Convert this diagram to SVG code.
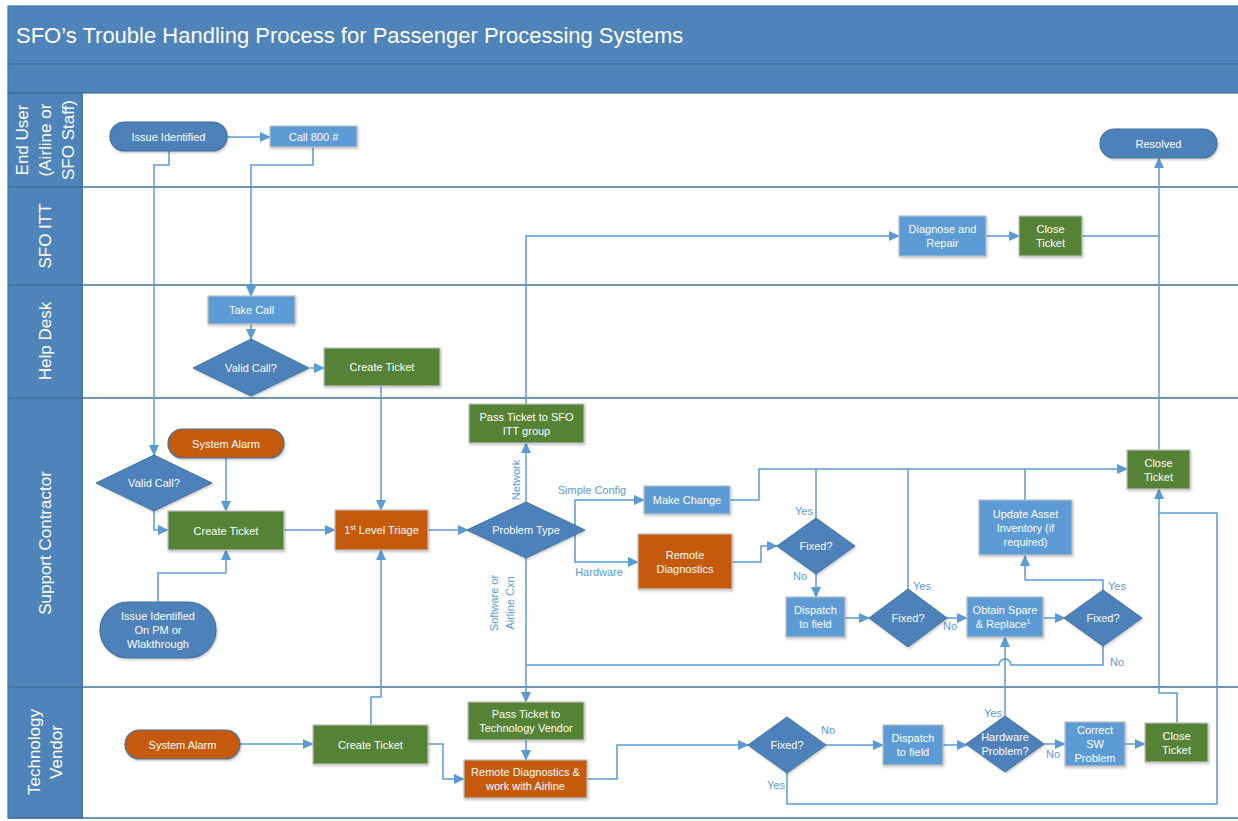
<svg xmlns="http://www.w3.org/2000/svg" width="1238" height="821" viewBox="0 0 1238 821">
<defs>
<marker id="arr" markerUnits="userSpaceOnUse" markerWidth="11" markerHeight="10" refX="10" refY="5" orient="auto">
<path d="M0,0 L11,5 L0,10 z" fill="#5b9bd5"/>
</marker>
<filter id="sh" x="-10%" y="-10%" width="130%" height="140%">
<feDropShadow dx="1" dy="1.5" stdDeviation="1.2" flood-color="#000" flood-opacity="0.22"/>
</filter>
<style>
.hdr{fill:#4e84ba;stroke:#41719c;stroke-width:1.2}
.lane{stroke:#41719c;stroke-width:1.6;fill:none}
.ttl{font-family:"Liberation Sans",Arial,sans-serif;font-size:22px;fill:#fff}
.lt{font-family:"Liberation Sans",Arial,sans-serif;font-size:17px;fill:#fff;text-anchor:middle}
.t{font-family:"Liberation Sans",Arial,sans-serif;font-size:11px;fill:#fff;text-anchor:middle}
.lbl{font-family:"Liberation Sans",Arial,sans-serif;font-size:11px;fill:#5b9bd5;text-anchor:middle}
.blue{fill:#5b9bd5;stroke:#bfbfbf;stroke-width:1.2;filter:url(#sh)}
.green{fill:#548235;stroke:#bfbfbf;stroke-width:1.2;filter:url(#sh)}
.orange{fill:#c55a11;stroke:#bfbfbf;stroke-width:1.2;filter:url(#sh)}
.pill{fill:#4e81ba;stroke:#41719c;stroke-width:1.2;filter:url(#sh)}
.opill{fill:#c55a11;stroke:#41719c;stroke-width:1.2;filter:url(#sh)}
.dec{fill:#4e81ba;stroke:#41719c;stroke-width:1;filter:url(#sh)}
.c{fill:none;stroke:#5b9bd5;stroke-width:1.5}
.ca{fill:none;stroke:#5b9bd5;stroke-width:1.5;marker-end:url(#arr)}
</style>
</defs>
<rect x="0" y="0" width="1238" height="821" fill="#fff"/>
<g id="swimlanes">
<rect class="hdr" x="8" y="6" width="1240" height="58"/>
<rect class="hdr" x="8" y="64" width="1240" height="29"/>
<rect class="hdr" x="8" y="93" width="74" height="725"/>
<path class="lane" d="M8,187 H1238 M8,285 H1238 M8,398 H1238 M8,687 H1238 M8,818 H1238 M82,93 V818"/>
<text class="ttl" x="16" y="43">SFO’s Trouble Handling Process for Passenger Processing Systems</text>
<text class="lt" transform="rotate(-90 45 140)" x="45" y="140"><tspan x="45" dy="-17">End User</tspan><tspan x="45" dy="23">(Airline or</tspan><tspan x="45" dy="23">SFO Staff)</tspan></text>
<text class="lt" transform="rotate(-90 51 236)" x="51" y="236">SFO ITT</text>
<text class="lt" transform="rotate(-90 51 341)" x="51" y="341">Help Desk</text>
<text class="lt" transform="rotate(-90 51 543)" x="51" y="543">Support Contractor</text>
<text class="lt" transform="rotate(-90 45 752)" x="45" y="752"><tspan x="45" dy="-5">Technology</tspan><tspan x="45" dy="22">Vendor</tspan></text>
</g>
<g id="connectors">
<path class="ca" d="M227,137 H270"/>
<path class="ca" d="M169,151 V165 H154 V455"/>
<path class="ca" d="M313,147 V165 H251 V296"/>
<path class="ca" d="M251,324 V339"/>
<path class="ca" d="M310,368 H324"/>
<path class="ca" d="M381,386 V510"/>
<path class="ca" d="M154,511 V530 H168"/>
<path class="ca" d="M226,458 V511"/>
<path class="ca" d="M158,602 V573 H226 V550"/>
<path class="ca" d="M284,530 H335"/>
<path class="ca" d="M428,530 H468"/>
<path class="ca" d="M526,502 V443"/>
<path class="ca" d="M526,404 V236 H899"/>
<path class="ca" d="M986,236 H1019"/>
<path class="c" d="M1082,236 H1159"/>
<path class="ca" d="M1159,450 V158"/>
<path class="ca" d="M575,530 V500 H644"/>
<path class="ca" d="M575,530 V562 H638"/>
<path class="ca" d="M730,500 H759 V469 H1127"/>
<path class="ca" d="M732,562 H761 V546 H777"/>
<path class="c" d="M816,518 V469"/>
<path class="ca" d="M816,574 V597"/>
<path class="ca" d="M845,618 H869"/>
<path class="c" d="M908,589 V469"/>
<path class="ca" d="M946,618 H967"/>
<path class="ca" d="M1043,618 H1065"/>
<path class="ca" d="M1103,590 V580 H1025 V556"/>
<path class="c" d="M1025,500 V469"/>
<path class="c" d="M1103,646 V665 H1011 A6,6 0 0 0 999,665 H526"/>
<path class="ca" d="M526,558 V702"/>
<path class="ca" d="M526,740 V760"/>
<path class="ca" d="M240,744 H313"/>
<path class="ca" d="M371,725 V697 H381 V550"/>
<path class="ca" d="M428,744 H443 V779 H464"/>
<path class="ca" d="M587,779 H617 V745 H748"/>
<path class="ca" d="M826,745 H883"/>
<path class="ca" d="M943,745 H967"/>
<path class="ca" d="M1005,716 V637"/>
<path class="ca" d="M1044,744 H1065"/>
<path class="ca" d="M1125,744 H1145"/>
<path class="ca" d="M1177,723 V693 H1159 V489"/>
<path class="c" d="M787,773 V804 H1217 V513 H1159"/>
<text class="lbl" transform="rotate(-90 520 480)" x="520" y="480">Network</text>
<text class="lbl" x="592" y="494">Simple Config</text>
<text class="lbl" x="599" y="576">Hardware</text>
<text class="lbl" transform="rotate(-90 502 603)" x="502" y="603"><tspan x="502" dy="-4">Software or</tspan><tspan x="502" dy="16">Airline Cxn</tspan></text>
<text class="lbl" x="804" y="515">Yes</text>
<text class="lbl" x="800" y="580">No</text>
<text class="lbl" x="922" y="590">Yes</text>
<text class="lbl" x="950" y="630">No</text>
<text class="lbl" x="1117" y="590">Yes</text>
<text class="lbl" x="1117" y="666">No</text>
<text class="lbl" x="828" y="734">No</text>
<text class="lbl" x="993" y="717">Yes</text>
<text class="lbl" x="1053" y="758">No</text>
<text class="lbl" x="776" y="789">Yes</text>
</g>
<g id="n_issue"><rect class="pill" x="110" y="122" width="117" height="29" rx="14.5"/><text class="t" x="168.5" y="140.5">Issue Identified</text></g>
<g id="n_call800"><rect class="blue" x="270" y="126" width="87" height="21"/><text class="t" x="313.5" y="140.5">Call 800 #</text></g>
<g id="n_resolved"><rect class="pill" x="1100" y="129" width="117" height="29" rx="14.5"/><text class="t" x="1158.5" y="147.5">Resolved</text></g>
<g id="n_diag_repair"><rect class="blue" x="899" y="216" width="87" height="40"/><text class="t" x="942.5" y="233"><tspan x="942.5">Diagnose and</tspan><tspan x="942.5" dy="14">Repair</tspan></text></g>
<g id="n_close_itt"><rect class="green" x="1019" y="216" width="63" height="40"/><text class="t" x="1050.5" y="233"><tspan x="1050.5">Close</tspan><tspan x="1050.5" dy="14">Ticket</tspan></text></g>
<g id="n_take_call"><rect class="blue" x="208" y="296" width="87" height="28"/><text class="t" x="251.5" y="314">Take Call</text></g>
<g id="n_valid_hd"><polygon class="dec" points="251,339 309,368 251,396 193,368"/><text class="t" x="251" y="372">Valid Call?</text></g>
<g id="n_create_hd"><rect class="green" x="324" y="348" width="116" height="38"/><text class="t" x="382" y="371">Create Ticket</text></g>
<g id="n_alarm_sc"><rect class="opill" x="168" y="429" width="116" height="29" rx="14.5"/><text class="t" x="226" y="447.5">System Alarm</text></g>
<g id="n_valid_sc"><polygon class="dec" points="154,455 212,483 154,511 96,483"/><text class="t" x="154" y="487">Valid Call?</text></g>
<g id="n_create_sc"><rect class="green" x="168" y="511" width="116" height="39"/><text class="t" x="226" y="534.5">Create Ticket</text></g>
<g id="n_issue_pm"><rect class="pill" x="100" y="602" width="116" height="56" rx="28"/><text class="t" x="158" y="620"><tspan x="158">Issue Identified</tspan><tspan x="158" dy="14">On PM or</tspan><tspan x="158" dy="14">Wlakthrough</tspan></text></g>
<g id="n_triage"><rect class="orange" x="335" y="510" width="93" height="40"/><text class="t" x="381.5" y="534">1<tspan font-size="7" dy="-4">st</tspan><tspan dy="4"> Level Triage</tspan></text></g>
<g id="n_pass_sfo"><rect class="green" x="469" y="404" width="115" height="39"/><text class="t" x="526.5" y="420.5"><tspan x="526.5">Pass Ticket to SFO</tspan><tspan x="526.5" dy="14">ITT group</tspan></text></g>
<g id="n_problem"><polygon class="dec" points="526,502 585,530 526,558 467,530"/><text class="t" x="526" y="534">Problem Type</text></g>
<g id="n_make_change"><rect class="blue" x="644" y="486" width="86" height="28"/><text class="t" x="687" y="504">Make Change</text></g>
<g id="n_remote_diag"><rect class="orange" x="638" y="534" width="94" height="55"/><text class="t" x="685" y="558.5"><tspan x="685">Remote</tspan><tspan x="685" dy="14">Diagnostics</tspan></text></g>
<g id="n_fixed1"><polygon class="dec" points="816,518 855,546 816,574 777,546"/><text class="t" x="816" y="550">Fixed?</text></g>
<g id="n_dispatch1"><rect class="blue" x="786" y="597" width="59" height="40"/><text class="t" x="815.5" y="614"><tspan x="815.5">Dispatch</tspan><tspan x="815.5" dy="14">to field</tspan></text></g>
<g id="n_fixed2"><polygon class="dec" points="908,589 947,618 908,647 869,618"/><text class="t" x="908" y="622">Fixed?</text></g>
<g id="n_obtain"><rect class="blue" x="967" y="597" width="76" height="40"/><text class="t" x="1005" y="614"><tspan x="1005">Obtain Spare</tspan><tspan x="1003" dy="14">&amp; Replace</tspan><tspan font-size="7" dy="-4">1</tspan></text></g>
<g id="n_fixed3"><polygon class="dec" points="1103,590 1142,618 1103,646 1064,618"/><text class="t" x="1103" y="622">Fixed?</text></g>
<g id="n_update"><rect class="blue" x="979" y="500" width="93" height="55"/><text class="t" x="1025.5" y="517.5"><tspan x="1025.5">Update Asset</tspan><tspan x="1025.5" dy="14">Inventory (if</tspan><tspan x="1025.5" dy="14">required)</tspan></text></g>
<g id="n_close_sc"><rect class="green" x="1127" y="450" width="63" height="39"/><text class="t" x="1158.5" y="466.5"><tspan x="1158.5">Close</tspan><tspan x="1158.5" dy="14">Ticket</tspan></text></g>
<g id="n_alarm_tv"><rect class="opill" x="125" y="730" width="115" height="29" rx="14.5"/><text class="t" x="182.5" y="748.5">System Alarm</text></g>
<g id="n_create_tv"><rect class="green" x="313" y="725" width="115" height="39"/><text class="t" x="370.5" y="748.5">Create Ticket</text></g>
<g id="n_pass_tv"><rect class="green" x="468" y="702" width="116" height="38"/><text class="t" x="526" y="718"><tspan x="526">Pass Ticket to</tspan><tspan x="526" dy="14">Technology Vendor</tspan></text></g>
<g id="n_remote_tv"><rect class="orange" x="464" y="760" width="123" height="38"/><text class="t" x="525.5" y="776"><tspan x="525.5">Remote Diagnostics &amp;</tspan><tspan x="525.5" dy="14">work with Airline</tspan></text></g>
<g id="n_fixed_tv"><polygon class="dec" points="787,717 826,745 787,773 748,745"/><text class="t" x="787" y="749">Fixed?</text></g>
<g id="n_dispatch_tv"><rect class="blue" x="883" y="725" width="60" height="40"/><text class="t" x="913" y="742"><tspan x="913">Dispatch</tspan><tspan x="913" dy="14">to field</tspan></text></g>
<g id="n_hw"><polygon class="dec" points="1005,716 1044,744 1005,772 966,744"/><text class="t" x="1005" y="741"><tspan x="1005">Hardware</tspan><tspan x="1005" dy="14">Problem?</tspan></text></g>
<g id="n_correct"><rect class="blue" x="1065" y="722" width="60" height="44"/><text class="t" x="1095" y="734"><tspan x="1095">Correct</tspan><tspan x="1095" dy="14">SW</tspan><tspan x="1095" dy="14">Problem</tspan></text></g>
<g id="n_close_tv"><rect class="green" x="1145" y="723" width="63" height="39"/><text class="t" x="1176.5" y="739.5"><tspan x="1176.5">Close</tspan><tspan x="1176.5" dy="14">Ticket</tspan></text></g>
</svg>
